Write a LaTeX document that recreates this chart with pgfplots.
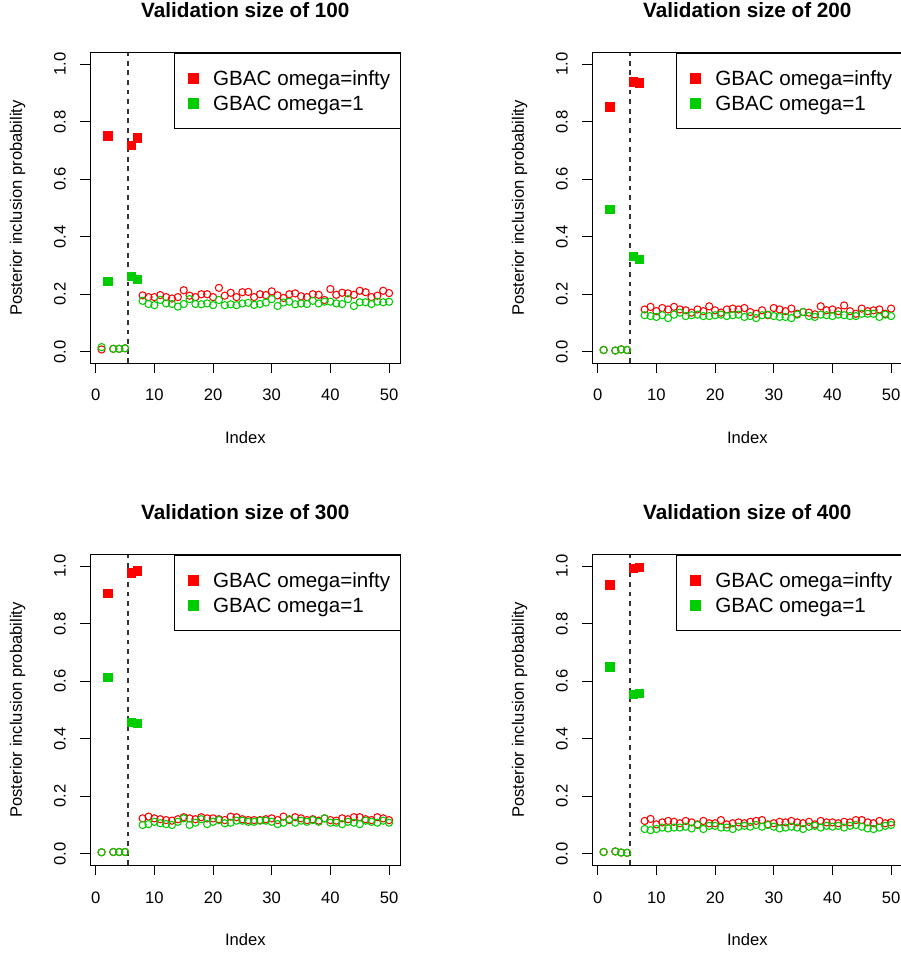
\documentclass[border=0pt]{standalone}
\usepackage{pgfplots}
\pgfplotsset{compat=1.18}
\usepackage{pgfplotstable}
\usepackage{fontspec}
\setmainfont{Liberation Sans}
\definecolor{rred}{HTML}{FF0000}
\definecolor{rgreen}{HTML}{00CD00}
\newcommand\tickfont{\fontsize{16.6}{19}\selectfont}
\newcommand\titlefont{\bfseries\fontsize{20.7}{24}\selectfont}
\newcommand\legfont{\fontsize{20.6}{24}\selectfont}

\pgfplotstableread{
idx red green
1 0.008 0.016
3 0.010 0.010
4 0.010 0.010
5 0.012 0.012
8 0.196 0.177
9 0.190 0.166
10 0.190 0.162
11 0.197 0.180
12 0.190 0.168
13 0.185 0.166
14 0.190 0.157
15 0.214 0.166
16 0.195 0.183
17 0.190 0.166
18 0.200 0.165
19 0.200 0.168
20 0.190 0.162
21 0.222 0.180
22 0.195 0.162
23 0.205 0.165
24 0.190 0.162
25 0.207 0.168
26 0.208 0.170
27 0.190 0.163
28 0.200 0.166
29 0.197 0.171
30 0.210 0.183
31 0.196 0.159
32 0.187 0.171
33 0.200 0.174
34 0.203 0.165
35 0.193 0.168
36 0.190 0.166
37 0.200 0.177
38 0.198 0.168
39 0.180 0.174
40 0.218 0.174
41 0.198 0.168
42 0.205 0.166
43 0.203 0.183
44 0.198 0.159
45 0.212 0.172
46 0.207 0.172
47 0.190 0.166
48 0.195 0.174
49 0.212 0.172
50 0.204 0.174
}\noiseA
\pgfplotstableread{
idx red green
2 0.752 0.246
6 0.719 0.264
7 0.745 0.254
}\sigA

\pgfplotstableread{
idx red green
1 0.006 0.006
3 0.004 0.004
4 0.008 0.008
5 0.006 0.006
8 0.147 0.127
9 0.156 0.124
10 0.141 0.121
11 0.152 0.127
12 0.147 0.117
13 0.156 0.129
14 0.147 0.136
15 0.144 0.124
16 0.136 0.127
17 0.147 0.129
18 0.141 0.124
19 0.158 0.124
20 0.144 0.127
21 0.136 0.129
22 0.147 0.124
23 0.150 0.127
24 0.147 0.129
25 0.152 0.121
26 0.138 0.124
27 0.132 0.117
28 0.144 0.127
29 0.127 0.129
30 0.152 0.124
31 0.147 0.121
32 0.141 0.121
33 0.150 0.117
34 0.132 0.129
35 0.138 0.138
36 0.136 0.124
37 0.130 0.121
38 0.158 0.129
39 0.144 0.127
40 0.147 0.124
41 0.141 0.129
42 0.161 0.127
43 0.141 0.124
44 0.132 0.124
45 0.150 0.132
46 0.141 0.132
47 0.144 0.132
48 0.147 0.121
49 0.132 0.129
50 0.150 0.124
}\noiseB
\pgfplotstableread{
idx red green
2 0.853 0.497
6 0.940 0.334
7 0.936 0.323
}\sigB

\pgfplotstableread{
idx red green
1 0.005 0.005
3 0.006 0.006
4 0.006 0.006
5 0.006 0.006
8 0.123 0.100
9 0.129 0.103
10 0.123 0.111
11 0.120 0.106
12 0.117 0.103
13 0.115 0.100
14 0.120 0.111
15 0.127 0.123
16 0.123 0.100
17 0.120 0.108
18 0.127 0.120
19 0.123 0.103
20 0.123 0.111
21 0.120 0.117
22 0.117 0.106
23 0.129 0.108
24 0.127 0.115
25 0.120 0.115
26 0.117 0.111
27 0.117 0.111
28 0.117 0.115
29 0.120 0.115
30 0.123 0.111
31 0.117 0.103
32 0.129 0.108
33 0.117 0.120
34 0.127 0.108
35 0.123 0.115
36 0.117 0.111
37 0.120 0.117
38 0.115 0.111
39 0.123 0.123
40 0.117 0.108
41 0.115 0.108
42 0.123 0.103
43 0.120 0.111
44 0.127 0.108
45 0.127 0.103
46 0.120 0.115
47 0.117 0.111
48 0.127 0.108
49 0.123 0.115
50 0.117 0.108
}\noiseC
\pgfplotstableread{
idx red green
2 0.908 0.615
6 0.978 0.459
7 0.985 0.455
}\sigC

\pgfplotstableread{
idx red green
1 0.006 0.006
3 0.008 0.008
4 0.004 0.004
5 0.003 0.003
8 0.114 0.086
9 0.121 0.082
10 0.102 0.086
11 0.109 0.091
12 0.114 0.088
13 0.111 0.091
14 0.106 0.091
15 0.114 0.094
16 0.109 0.088
17 0.102 0.100
18 0.114 0.086
19 0.106 0.097
20 0.106 0.097
21 0.117 0.091
22 0.102 0.091
23 0.106 0.086
24 0.109 0.094
25 0.106 0.097
26 0.111 0.094
27 0.114 0.100
28 0.117 0.094
29 0.102 0.100
30 0.106 0.094
31 0.111 0.088
32 0.109 0.091
33 0.114 0.094
34 0.109 0.091
35 0.106 0.086
36 0.111 0.094
37 0.102 0.097
38 0.114 0.091
39 0.109 0.097
40 0.109 0.094
41 0.106 0.097
42 0.111 0.091
43 0.109 0.097
44 0.117 0.100
45 0.117 0.094
46 0.109 0.088
47 0.106 0.086
48 0.114 0.091
49 0.106 0.097
50 0.109 0.100
}\noiseD
\pgfplotstableread{
idx red green
2 0.937 0.651
6 0.993 0.556
7 0.997 0.559
}\sigD

\pgfplotsset{
  panel/.style={
    scale only axis, width=310.5pt, height=310.4pt,
    anchor=south west,
    xmin=-0.96, xmax=51.96, ymin=-0.04, ymax=1.04,
    xtick={0,10,20,30,40,50}, ytick={0,0.2,0.4,0.6,0.8,1},
    xtick pos=left, ytick pos=left,
    tick align=outside, major tick length=10pt,
    axis line style={black, line width=0.9pt},
    tick style={black, line width=0.9pt},
    /pgf/number format/assume math mode=true,
    ticklabel style={font=\tickfont, inner sep=0pt},
    yticklabel style={rotate=90, anchor=south, /pgf/number format/.cd, fixed, fixed zerofill, precision=1},
    xticklabel style={anchor=north},
    yticklabel shift=14pt, xticklabel shift=16pt,
    xlabel={Index}, ylabel={Posterior inclusion probability},
    xlabel style={at={([yshift=-74pt]axis description cs:0.5,0)}, anchor=center, inner sep=0pt, font=\tickfont},
    ylabel style={at={([xshift=-72.5pt]axis description cs:0,0.5)}, anchor=center, inner sep=0pt, font=\tickfont},
    every axis title/.style={at={([yshift=42.3pt]axis description cs:0.5,1)}, anchor=center, inner sep=0pt, font=\titlefont},
    legend cell align=left,
    legend style={at={(1,1)}, anchor=north east, draw=black, line width=0.9pt, fill=white,
      inner xsep=10pt, inner ysep=17.6pt, row sep=10.25pt, column sep=14.3pt,
      font=\legfont, nodes={inner sep=0pt, text height=14.75pt, text depth=0pt}},
  },
  circ/.style={only marks, mark=o, mark size=3.6pt, mark options={line width=1.05pt}, forget plot},
  sq/.style={only marks, mark=square*, mark size=4.15pt, mark options={line width=0.1pt}, forget plot},
  vline/.style={black!80, line width=1.1pt, dash pattern=on 4.8pt off 4.8pt, forget plot},
}

\newcommand\panelcontent[2]{%
  \addplot[circ, rred] table[x=idx, y=red]{#1};
  \addplot[sq, rred] table[x=idx, y=red]{#2};
  \addplot[circ, rgreen] table[x=idx, y=green]{#1};
  \addplot[sq, rgreen] table[x=idx, y=green]{#2};
  \addplot[vline] coordinates {(5.5,-0.04) (5.5,1.04)};
  \addlegendimage{legend image code/.code={\fill[rred] (0pt,-5.15pt) rectangle (10.3pt,5.15pt); \path (-3.4pt,0pt);}}
  \addlegendentry{GBAC omega=infty}
  \addlegendimage{legend image code/.code={\fill[rgreen] (0pt,-5.15pt) rectangle (10.3pt,5.15pt); \path (-3.4pt,0pt);}}
  \addlegendentry{GBAC omega=1}
}

\begin{document}
\begin{tikzpicture}
\begin{axis}[panel, at={(90.07pt,-363.2pt)}, title={Validation size of 100}]
\panelcontent{\noiseA}{\sigA}
\end{axis}
\begin{axis}[panel, at={(592.1pt,-363.2pt)}, title={Validation size of 200}]
\panelcontent{\noiseB}{\sigB}
\end{axis}
\begin{axis}[panel, at={(90.07pt,-865.2pt)}, title={Validation size of 300}]
\panelcontent{\noiseC}{\sigC}
\end{axis}
\begin{axis}[panel, at={(592.1pt,-865.2pt)}, title={Validation size of 400}]
\panelcontent{\noiseD}{\sigD}
\end{axis}
\pgfresetboundingbox
\path[use as bounding box] (0pt,0pt) rectangle (901pt,-953pt);
\end{tikzpicture}
\end{document}
